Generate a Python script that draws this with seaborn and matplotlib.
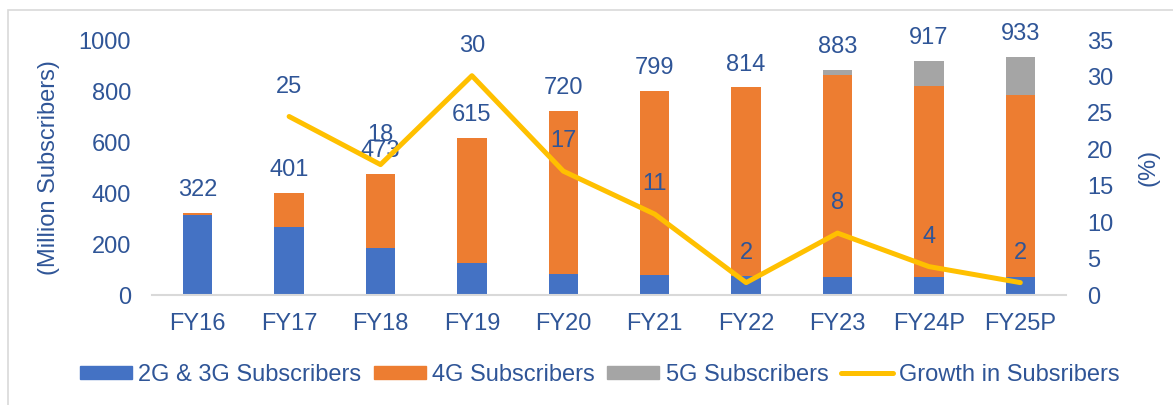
import numpy as np
import pandas as pd
import matplotlib
matplotlib.use("Agg")
import matplotlib.pyplot as plt
import matplotlib.patches as mpatches
import matplotlib.lines as mlines
import seaborn as sns

sns.set_theme(style="white")
plt.rcParams['font.family'] = ['Liberation Sans', 'DejaVu Sans']

# data
years = ["FY16", "FY17", "FY18", "FY19", "FY20", "FY21", "FY22", "FY23", "FY24P", "FY25P"]
subs_2g3g = [314, 267, 184, 125, 82, 78, 75, 71, 70, 69]
subs_4g = [8, 134, 289, 490, 638, 721, 739, 792, 750, 715]
subs_5g = [0, 0, 0, 0, 0, 0, 0, 20, 97, 149]
total_labels = ["322", "401", "473", "615", "720", "799", "814", "883", "917", "933"]
growth = [np.nan, 24.5, 17.9, 30.1, 17.0, 11.1, 1.7, 8.5, 3.9, 1.7]
growth_labels = ["", "25", "18", "30", "17", "11", "2", "8", "4", "2"]

c_blue = "#4472C4"
c_orange = "#ED7D31"
c_gray = "#A5A5A5"
c_line = "#FFC000"
c_text = "#2F5597"
fs = 17

df = pd.DataFrame({"year": years, "g23": subs_2g3g, "g4": subs_4g, "g5": subs_5g})
df["lvl2"] = df["g23"] + df["g4"]
df["lvl3"] = df["lvl2"] + df["g5"]

fig = plt.figure(figsize=(11.73, 4.05), dpi=100)
fig.subplots_adjust(left=0.1296, right=0.9088, bottom=0.2716, top=0.9012)
ax = fig.add_subplot(111)

# stacked bars drawn as overlapping cumulative layers
sns.barplot(data=df, x="year", y="lvl3", color=c_gray, width=0.32, saturation=1, ax=ax, linewidth=0)
sns.barplot(data=df, x="year", y="lvl2", color=c_orange, width=0.32, saturation=1, ax=ax, linewidth=0)
sns.barplot(data=df, x="year", y="g23", color=c_blue, width=0.32, saturation=1, ax=ax, linewidth=0)

ax.set_ylim(0, 1000)
ax.set_yticks(range(0, 1001, 200))
ax.set_xlabel("")
ax.set_ylabel("(Million Subscribers)", fontsize=fs, color=c_text)
ax.yaxis.set_label_coords(-0.1007, 0.5)
ax.tick_params(axis="y", length=0, pad=15, labelsize=fs, labelcolor=c_text)
ax.tick_params(axis="x", length=0, pad=13, labelsize=fs, labelcolor=c_text)
for s in ["top", "left", "right"]:
    ax.spines[s].set_visible(False)
ax.spines["bottom"].set_color("#D9D9D9")
ax.spines["bottom"].set_linewidth(1.5)

for i, lab in enumerate(total_labels):
    ax.annotate(lab, (i, df["lvl3"][i]), xytext=(0, 16.5), textcoords="offset points",
                ha="center", va="center", fontsize=fs, color=c_text)

ax2 = ax.twinx()
sns.pointplot(x=years, y=growth, order=years, ax=ax2, color=c_line, marker="",
              linestyle="-", linewidth=3.6, errorbar=None)
ax2.set_ylim(0, 35)
ax2.set_yticks(range(0, 36, 5))
ax2.set_ylabel("(%)", fontsize=fs, color=c_text)
ax2.yaxis.set_label_coords(1.0777, 0.5)
ax2.tick_params(axis="y", length=0, pad=15, labelsize=fs, labelcolor=c_text)
ax2.grid(False)
for s in ["top", "left", "right", "bottom"]:
    ax2.spines[s].set_visible(False)

for i, lab in enumerate(growth_labels):
    if lab:
        ax2.annotate(lab, (i, growth[i]), xytext=(0, 21.6), textcoords="offset points",
                     ha="center", va="center", fontsize=fs, color=c_text)

handles = [
    mpatches.Patch(color=c_blue, label="2G & 3G Subscribers"),
    mpatches.Patch(color=c_orange, label="4G Subscribers"),
    mpatches.Patch(color=c_gray, label="5G Subscribers"),
    mlines.Line2D([], [], color=c_line, linewidth=3.6, solid_capstyle="round", label="Growth in Subsribers"),
]
leg = fig.legend(handles=handles, loc="center", bbox_to_anchor=(0.5115, 0.074), ncol=4,
                 frameon=False, fontsize=fs, handlelength=2.2, handleheight=0.5,
                 handletextpad=0.27, columnspacing=0.53)
for t in leg.get_texts():
    t.set_color(c_text)

# light frame around the chart
fig.patches.append(mpatches.Rectangle((8 / 1173, -0.1), 1.2, 1 - 10 / 405 + 0.1,
                                      transform=fig.transFigure, fill=False,
                                      edgecolor="#D9D9D9", linewidth=1.2))

fig.savefig("out.png", dpi=100)
